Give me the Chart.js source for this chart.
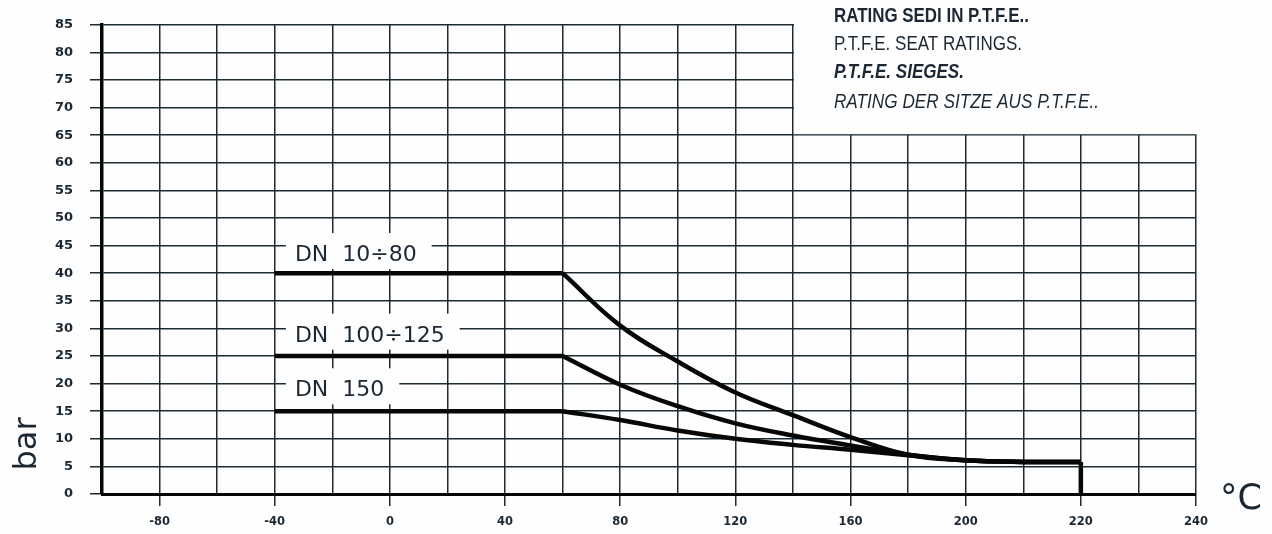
<!DOCTYPE html>
<html>
<head>
<meta charset="utf-8">
<script src="https://cdn.jsdelivr.net/npm/chart.js@4.4.1/dist/chart.umd.min.js"></script>
<style>
  html, body { margin: 0; padding: 0; background: #fefefe; }
  #wrap { width: 1272px; height: 534px; position: relative; }
</style>
</head>
<body>
<div id="wrap"><canvas id="ptfe_chart"></canvas></div>
<script>
// x values are grid positions (20 per square); the sheet labels the
// 240 and 280 lines as "220" and "240"
var x_tick_pos = [-80, -40, 0, 40, 80, 120, 160, 200, 240, 280];
var x_tick_text = ["-80", "-40", "0", "40", "80", "120", "160", "200", "220", "240"];

var flat_temp = [-40, 60];
var curve_temp = [60, 80, 100, 120, 140, 160, 180, 200, 220, 240];
var drop_temp = [240, 240];

var dn80_flat = [40, 40];
var dn80_curve = [40, 30.5, 24.0, 18.4, 14.3, 10.3, 7.1, 6.1, 5.8, 5.8];
var dn125_flat = [25, 25];
var dn125_curve = [25, 19.8, 15.9, 12.8, 10.6, 8.8, 7.1, 6.1, 5.8, 5.8];
var dn150_flat = [15, 15];
var dn150_curve = [15, 13.4, 11.5, 10.0, 8.9, 8.0, 7.0, 6.1, 5.8, 5.8];
var drop_bar = [5.8, 0];

var dn_labels = ["DN  10÷80", "DN  100÷125", "DN  150"];
var dn_label_x = [-33, -33, -33];
var dn_label_y = [42.2, 27.6, 17.7];

var header_lines = [
  "RATING SEDI IN P.T.F.E..",
  "P.T.F.E. SEAT RATINGS.",
  "P.T.F.E. SIEGES.",
  "RATING DER SITZE AUS P.T.F.E..",
];

var gridColor = "#1c2a32";
var inkColor = "#1b2833";
var paper = "#fefefe";

function pts(xs, ys) {
  var out = [];
  for (i = 0; i < xs.length; i++) out.push({ x: xs[i], y: ys[i] });
  return out;
}

function line(xs, ys, curved) {
  return {
    data: pts(xs, ys),
    borderColor: "#070707",
    borderWidth: 4.5,
    pointRadius: 0,
    fill: false,
    tension: curved ? 0.4 : 0,
    borderCapStyle: "butt",
    borderJoinStyle: "miter",
  };
}

var sheetPlugin = {
  id: "sheet",
  beforeDatasetsDraw(chart) {
    var ctx = chart.ctx;
    var x = chart.scales.x;
    var y = chart.scales.y;
    ctx.save();

    // the corner above 65 bar and right of 140 is left blank on the sheet
    var cx = x.getPixelForValue(140) + 1;
    var cy = y.getPixelForValue(65) - 1;
    ctx.fillStyle = paper;
    ctx.fillRect(cx, 0, chart.width - cx, cy);

    // title block
    var styles = ["bold", "normal", "italic bold", "italic"];
    var widths = [195, 188, 130, 265];
    var base = [22, 50, 78, 108];
    ctx.fillStyle = inkColor;
    ctx.textBaseline = "alphabetic";
    ctx.textAlign = "left";
    for (i = 0; i < header_lines.length; i++) {
      ctx.font = styles[i] + ' 20px "Liberation Sans", Arial, sans-serif';
      ctx.fillText(header_lines[i], cx + 40, base[i], widths[i]);
    }

    // DN labels sit on white patches
    ctx.font = '22px "DejaVu Sans", sans-serif';
    for (i = 0; i < dn_labels.length; i++) {
      var lx = x.getPixelForValue(dn_label_x[i]);
      var ly = y.getPixelForValue(dn_label_y[i]);
      var w = ctx.measureText(dn_labels[i]).width;
      ctx.fillStyle = paper;
      ctx.fillRect(lx - 9, ly - 28, w + 24, 36);
      ctx.fillStyle = inkColor;
      ctx.fillText(dn_labels[i], lx, ly);
    }

    // axis units
    ctx.font = '32px "DejaVu Sans", sans-serif';
    ctx.save();
    ctx.translate(36, 444);
    ctx.rotate(-Math.PI / 2);
    ctx.textAlign = "center";
    ctx.fillText("bar", 0, 0);
    ctx.restore();
    ctx.font = '35px "DejaVu Sans", sans-serif';
    ctx.fillText("°C", 1220, 509);
    ctx.restore();
  },
};

var ctx = document.getElementById("ptfe_chart").getContext("2d");
var myChart = new Chart(ctx, {
  type: "line",
  data: {
    datasets: [
      line(flat_temp, dn80_flat, false),
      line(curve_temp, dn80_curve, true),
      line(flat_temp, dn125_flat, false),
      line(curve_temp, dn125_curve, true),
      line(flat_temp, dn150_flat, false),
      line(curve_temp, dn150_curve, true),
      line(drop_temp, drop_bar, false),
    ],
  },
  options: {
    responsive: true,
    maintainAspectRatio: false,
    animation: false,
    layout: { padding: { top: 13, right: 76, left: 0, bottom: 0 } },
    plugins: {
      legend: { display: false },
      tooltip: { enabled: false },
    },
    scales: {
      x: {
        type: "linear",
        min: -100,
        max: 280,
        afterFit: function (s) {
          s.height = 40;
        },
        border: { display: true, color: "#050505", width: 3 },
        grid: {
          color: gridColor,
          lineWidth: 1.5,
          tickLength: 12,
          tickColor: function (c) {
            return c.tick && x_tick_pos.indexOf(c.tick.value) >= 0 ? gridColor : "rgba(0,0,0,0)";
          },
        },
        ticks: {
          stepSize: 20,
          autoSkip: false,
          maxRotation: 0,
          padding: 9,
          color: inkColor,
          font: { family: "DejaVu Sans", size: 11.5, weight: "bold" },
          callback: function (v) {
            var k = x_tick_pos.indexOf(v);
            return k >= 0 ? x_tick_text[k] : "";
          },
        },
      },
      y: {
        min: 0,
        max: 85,
        afterFit: function (s) {
          s.width = 102;
        },
        border: { display: true, color: "#050505", width: 3.5 },
        grid: { color: gridColor, lineWidth: 1.5, tickLength: 12 },
        ticks: {
          stepSize: 5,
          padding: 17,
          color: inkColor,
          font: { family: "DejaVu Sans", size: 13, weight: "bold" },
        },
      },
    },
  },
  plugins: [sheetPlugin],
});
</script>
</body>
</html>
